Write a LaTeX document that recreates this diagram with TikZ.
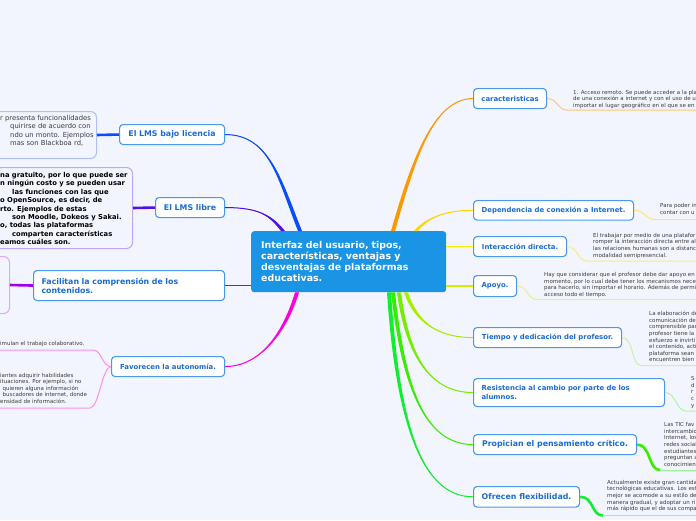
\documentclass[tikz,border=0pt]{standalone}
\usepackage{fontspec}
\setmainfont{DejaVu Sans}
\usetikzlibrary{positioning}

\definecolor{paper}{HTML}{F2F5FD}
\definecolor{hub}{HTML}{1A95E6}
\definecolor{boxline}{HTML}{4A98EE}
\definecolor{boxtext}{HTML}{1A6BD6}
\definecolor{leaftext}{HTML}{3C3C3C}
\definecolor{cLic}{HTML}{0B4CFF}
\definecolor{cLib}{HTML}{5010E8}
\definecolor{cFac}{HTML}{A100EE}
\definecolor{cAut}{HTML}{FF00DC}
\definecolor{cCar}{HTML}{FF9800}
\definecolor{cDep}{HTML}{FFD600}
\definecolor{cInt}{HTML}{FFEA00}
\definecolor{cApo}{HTML}{D2EE00}
\definecolor{cTie}{HTML}{A8EE00}
\definecolor{cRes}{HTML}{76EE00}
\definecolor{cPro}{HTML}{38EE00}
\definecolor{cOfr}{HTML}{10EE30}
\definecolor{lCar}{HTML}{FFC77A}
\definecolor{lDep}{HTML}{FFE47A}
\definecolor{lInt}{HTML}{F6EE7A}
\definecolor{lApo}{HTML}{E4F28A}
\definecolor{lTie}{HTML}{CBF2A0}
\definecolor{lRes}{HTML}{B4F2A0}
\definecolor{lPro}{HTML}{9AF49A}
\definecolor{lAut}{HTML}{FF8FEC}
\definecolor{fLic}{HTML}{AFC0F7}
\definecolor{fLib}{HTML}{BDA8F5}
\definecolor{fFac}{HTML}{DCAAF5}

% tapered main branch: colour, from, out control, in control, to
\newcommand{\branchtaper}[5]{%
  \fill[#1] (#2) .. controls +(#3) and +(#4) .. ([xshift=2pt]#5)
    -- ([xshift=-2pt]#5) .. controls +(#4) and +(#3) .. (#2) -- cycle;
  \draw[#1, line width=1pt] (#2) .. controls +(#3) and +(#4) .. (#5);}

\begin{document}
\begin{tikzpicture}[x=1pt, y=-1pt,
  hubbox/.style={fill=hub, rounded corners=3pt, text=white, anchor=north west,
    font=\bfseries\fontsize{9.4}{11.1}\selectfont, align=left,
    inner xsep=10pt, inner ysep=2pt},
  topic/.style={draw=boxline, line width=1.1pt, fill=white, rounded corners=3.5pt,
    text=boxtext, anchor=north west, inner sep=0pt,
    font=\bfseries\fontsize{6.9}{9}\selectfont},
  bigtopic/.style={topic, font=\bfseries\fontsize{7.85}{9}\selectfont},
  frame/.style={draw=#1, line width=1pt, rounded corners=6pt, anchor=north west, inner sep=0pt},
  note/.style={anchor=base west, inner sep=0pt, align=left, text=leaftext,
    font=\fontsize{5.5}{6.6}\selectfont},
  twig/.style={#1, line width=1pt}]
\useasboundingbox (0,0) rectangle (696,520);
\clip (0,0) rectangle (696,520);
\fill[paper] (0,0) rectangle (696,520);

% central topic
\node[hubbox, text width=175pt, minimum height=61pt] (ctr) at (251,231)
  {Interfaz del usuario, tipos,\\características, ventajas y\\desventajas de plataformas\\educativas.};

% left topics
\node[bigtopic, minimum width=105pt, minimum height=20pt] (lic) at (119,124) {El LMS bajo licencia};
\node[bigtopic, minimum width=69pt, minimum height=20pt] (lib) at (155,197) {El LMS libre};
\node[bigtopic, text width=175pt, inner xsep=8pt, align=left, minimum height=30pt] (fac) at (33,270)
  {Facilitan la comprensión de los\\contenidos.};
\node[topic, minimum width=113pt, minimum height=20pt] (aut) at (111,356) {Favorecen la autonomía.};

% right topics
\node[topic, minimum width=73pt, minimum height=20pt] (car) at (473,88) {caracteristicas};
\node[topic, minimum width=160pt, minimum height=19.5pt] (dep) at (473,200) {Dependencia de conexión a Internet.};
\node[topic, minimum width=93pt, minimum height=20pt] (int) at (473,236) {Interacción directa.};
\node[topic, minimum width=43pt, minimum height=21pt] (apo) at (473,275) {Apoyo.};
\node[topic, minimum width=148pt, minimum height=20pt] (tie) at (473,327) {Tiempo y dedicación del profesor.};
\node[topic, text width=175pt, inner xsep=8pt, align=left, minimum height=28pt] (res) at (473,378)
  {Resistencia al cambio por parte de los\\alumnos.};
\node[bigtopic, minimum width=163pt, minimum height=20pt] (pro) at (473,434) {Propician el pensamiento crítico.};
\node[bigtopic, minimum width=106pt, minimum height=20.5pt] (ofr) at (473,486) {Ofrecen flexibilidad.};

% ends of the branches on the central topic
\coordinate (eLic) at ([xshift=49pt]ctr.north west);
\coordinate (eLib) at ([xshift=32pt]ctr.north west);
\coordinate (eAut) at ([xshift=46pt]ctr.south west);
\coordinate (eCar) at ([xshift=142pt]ctr.north west);
\coordinate (eDep) at ([xshift=165pt]ctr.north west);
\coordinate (eTie) at ([xshift=155pt]ctr.south west);
\coordinate (eRes) at ([xshift=148pt]ctr.south west);
\coordinate (ePro) at ([xshift=142pt]ctr.south west);
\coordinate (eOfr) at ([xshift=138pt]ctr.south west);

% main branches
\branchtaper{cLic}{lic.east}{45,0}{-20,-50}{eLic}
\branchtaper{cLib}{lib.east}{35,0}{-12,-15}{eLib}
\branchtaper{cAut}{aut.east}{35,0}{-12,40}{eAut}
\branchtaper{cCar}{car.west}{-40,0}{20,-70}{eCar}
\branchtaper{cDep}{dep.west}{-30,0}{10,-12}{eDep}
\branchtaper{cTie}{tie.west}{-35,0}{10,30}{eTie}
\branchtaper{cRes}{res.west}{-45,0}{8,60}{eRes}
\branchtaper{cPro}{pro.west}{-50,0}{10,90}{ePro}
\branchtaper{cOfr}{ofr.west}{-55,0}{8,120}{eOfr}
\draw[cFac, line width=1.8pt] (fac.east) -- (fac.east -| ctr.west);
\draw[cInt, line width=1.8pt] (int.west) -- (int.west -| ctr.east);
\draw[cApo, line width=1.8pt] (apo.west) -- (apo.west -| ctr.east);

% left details
\node[frame=fLic, minimum width=106pt, minimum height=47pt] (licBox) at (-10,111) {};
\node[frame=fLib, minimum width=142pt, minimum height=81pt] (libBox) at (-10,167) {};
\node[frame=fFac, minimum width=19pt, minimum height=57pt] (facBox) at (-10,256) {};
\draw[cLic, line width=2.6pt] (lic.west) -- (licBox.east);
\draw[cLib, line width=2.6pt] (lib.west) -- (libBox.east);
\draw[cFac, line width=2.6pt] (fac.west) -- (facBox.east);

\foreach \dx/\txt [count=\i] in {0/{r presenta funcionalidades}, 10/{quirirse de acuerdo con},
    10/{ndo un monto. Ejemplos}, 10/{mas son Blackboa rd,}}
  \node[note, font=\fontsize{6.8}{8.4}\selectfont, name=licL\i] at (\dx,{120.3+(\i-1)*8.4}) {\txt};
\foreach \dx/\txt [count=\i] in {0/{na gratuito, por lo que puede ser}, 0/{n ningún costo y se pueden usar},
    12/{las funciones con las que}, 0/{o OpenSource, es decir, de}, 0/{rto. Ejemplos de estas},
    12/{son Moodle, Dokeos y Sakai.}, 0/{o, todas las plataformas}, 12/{comparten características},
    0/{eamos cuáles son.}}
  \node[note, text=black, font=\bfseries\fontsize{6.8}{8.4}\selectfont, name=libL\i] at (\dx,{177.4+(\i-1)*8.4}) {\txt};

\coordinate (autA) at (93,350);  \coordinate (autB) at (-2,350);
\coordinate (autC) at (90,408);  \coordinate (autD) at (-2,408);
\draw[twig=lAut] (aut.west) .. controls +(-9,0) and +(9,0) .. (autA) -- (autB);
\draw[twig=lAut] (aut.west) .. controls +(-9,0) and +(9,0) .. (autC) -- (autD);
\node[note] (autNoteA) at (0,345.5) {imulan el trabajo colaborativo.};
\foreach \dx/\txt [count=\i] in {0/{iantes adquirir habilidades}, 0/{ituaciones. Por ejemplo, si no},
    2.5/{quieren alguna información}, 2.5/{buscadores de internet, donde}, 0/{ensidad de información.}}
  \node[note, name=autL\i] at (\dx,{377.3+(\i-1)*6.5}) {\txt};

% right details
\coordinate (carA) at (567,110);   \coordinate (carB) at (700,110);
\coordinate (depA) at (655,219.5); \coordinate (depB) at (700,219.5);
\coordinate (intA) at (587,261);   \coordinate (intB) at (700,261);
\coordinate (apoA) at (537,299.5); \coordinate (apoB) at (700,299.5);
\coordinate (tieA) at (641,365.5); \coordinate (tieB) at (700,365.5);
\coordinate (resA) at (686,411);   \coordinate (resB) at (700,411);
\coordinate (proA) at (660,470);   \coordinate (proB) at (700,470);
\coordinate (ofrA) at (603,515.5); \coordinate (ofrB) at (700,515.5);

\draw[twig=lCar] (car.east) .. controls +(11,0) and +(-10,0) .. (carA) -- (carB);
\draw[twig=lDep] (dep.east) .. controls +(11,0) and +(-10,0) .. (depA) -- (depB);
\draw[twig=lInt] (int.east) .. controls +(11,0) and +(-10,0) .. (intA) -- (intB);
\draw[twig=lApo] (apo.east) .. controls +(11,0) and +(-10,0) .. (apoA) -- (apoB);
\draw[twig=lTie] (tie.east) .. controls +(12,0) and +(-10,0) .. (tieA) -- (tieB);
\draw[twig=lRes] (res.east) .. controls +(11,0) and +(-10,0) .. (resA) -- (resB);
\draw[cPro, line width=2.6pt] (pro.east) .. controls +(14,0) and +(-12,0) .. (proA);
\draw[twig=lPro] (proA) -- (proB);
\draw[cOfr, line width=2.6pt] (ofr.east) .. controls +(14,0) and +(-12,0) .. (ofrA);
\draw[twig=lPro] (ofrA) -- (ofrB);

% multi-line notes sit on the baseline of their last line
\node[note] (carNote) at (573,107.2)
  {1. Acceso remoto. Se puede acceder a la pla\\de una conexión a internet y con el uso de u\\importar el lugar geográfico en el que se en};
\node[note] (depNote) at (660,214.2) {Para poder in\\contar con u};
\node[note] (intNote) at (593,257.1)
  {El trabajar por medio de una platafor\\romper la interacción directa entre al\\las relaciones humanas son a distanc\\modalidad semipresencial.};
\node[note] (apoNote) at (544,296.4)
  {Hay que considerar que el profesor debe dar apoyo en\\momento, por lo cual debe tener los mecanismos nece\\para hacerlo, sin importar el horario. Además de permi\\acceso todo el tiempo.};
\node[note] (tieNote) at (649,361.8)
  {La elaboración de\\comunicación del\\comprensible par\\profesor tiene la\\esfuerzo e invirti\\el contenido, acti\\plataforma sean\\encuentren bien};
\node[note] (resNote) at (691,407)
  {S\\d\\r\\c\\y};
\node[note] (proNote) at (664,466.2)
  {Las TIC fav\\intercambio\\Internet, los\\redes social\\estudiantes\\preguntan a\\conocimient};
\node[note] (ofrNote) at (607,510.7)
  {Actualmente existe gran cantida\\tecnológicas educativas. Los est\\mejor se acomode a su estilo de\\manera gradual, y adoptar un ri\\más rápido que el de sus compa};
\end{tikzpicture}
\end{document}
